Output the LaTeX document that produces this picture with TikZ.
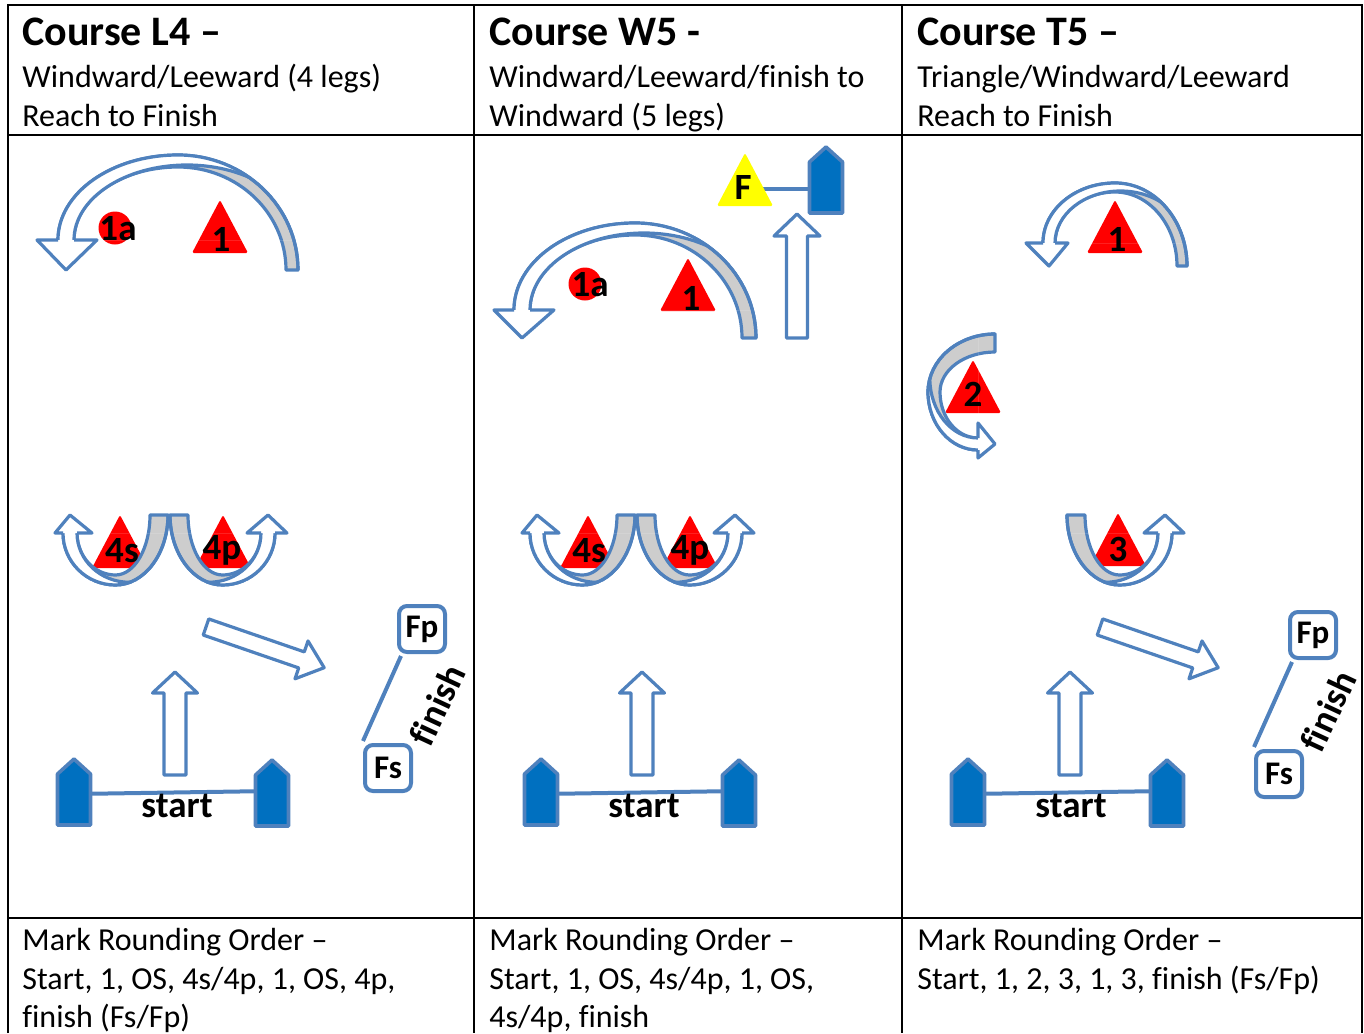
\documentclass[tikz,border=0pt]{standalone}
\usepackage{fontspec}
\setmainfont[Ligatures=NoCommon]{Carlito}
\usetikzlibrary{calc}
\definecolor{cblue}{RGB}{79,129,189}
\definecolor{boatblue}{RGB}{0,112,192}
\definecolor{greyband}{RGB}{205,205,205}
\definecolor{markred}{RGB}{255,0,0}
\definecolor{markyellow}{RGB}{255,255,0}

\tikzset{
 aline/.style={draw=cblue, line width=1.6pt, line join=round},
 tline/.style={draw=black, line width=1pt},
 sline/.style={draw=cblue, line width=2pt},
 boatshape/.style={draw=cblue, fill=boatblue, line width=1.8pt, line join=round},
 titletext/.style={anchor=base west, inner sep=0pt, font=\fontsize{21pt}{25pt}\selectfont\bfseries},
 bodytext/.style={anchor=base west, inner sep=0pt, font=\fontsize{16pt}{19pt}\selectfont},
 mlabel/.style={inner sep=0pt, font=\fontsize{18.5pt}{18.5pt}\selectfont\bfseries},
 fbox/.style={draw=cblue, fill=white, line width=2pt, rounded corners=4pt, minimum width=23pt, minimum height=23pt, inner sep=0pt, font=\fontsize{16.5pt}{16.5pt}\selectfont\bfseries},
}

\pgfkeys{/carrow/.cd,
  W/.store in=\cW, H/.store in=\cH, N/.store in=\cN, T/.store in=\cT, G/.store in=\cG,
  B/.store in=\cB, Ea/.store in=\cEa, Eb/.store in=\cEb, d/.store in=\cd, b/.store in=\cb}

\newcommand\carrow[2]{%
 \pgfkeys{/carrow/.cd,#2}%
 \pgfmathsetmacro\cWT{\cW-\cT}%
 \pgfmathsetmacro\cHG{\cH-\cG}%
 \pgfmathsetmacro\cWB{\cW-\cB}%
 \pgfmathsetmacro\cHN{\cH-\cN}%
 \pgfmathsetmacro\cHNG{\cH-\cN-\cG}%
 \pgfmathsetmacro\cA{\cW-\cB+\cd}%
 \pgfmathsetmacro\cEx{\cd+\cA}%
 \pgfmathsetmacro\cL{-\cW-\cEa-4}%
 \pgfmathsetmacro\cR{\cW+4}%
 \pgfmathsetmacro\cTop{\cH+4}%
 \pgfmathsetmacro\cNo{-\cW}%
 \pgfmathsetmacro\cNi{-\cW+\cB}%
 \pgfmathsetmacro\cHl{-\cW-\cEa}%
 \pgfmathsetmacro\cHr{-\cW+\cB+\cEb}%
 \pgfmathsetmacro\cTip{-\cW+0.5*\cB}%
 \begin{scope}[#1, y=0.5pt]
  \path[aline, fill=greyband] (\cW,0) arc[start angle=0,end angle=90,x radius=\cW,y radius=\cH]
     arc[start angle=90,end angle=180,x radius=\cW,y radius=\cHN]
     -- (\cNi,\cN) arc[start angle=180,end angle=90,x radius=\cWB,y radius=\cHNG]
     arc[start angle=90,end angle=0,x radius=\cWT,y radius=\cHG] -- cycle;
  \begin{scope}
   \clip (\cL,\cN) rectangle (\cR,\cTop);
   \clip (\cW,0) arc[start angle=0,end angle=90,x radius=\cW,y radius=\cH]
     arc[start angle=90,end angle=180,x radius=\cW,y radius=\cHN] -- (\cNo,0) -- cycle;
   \fill[white, even odd rule] (\cL,\cN) rectangle (\cR,\cTop)
     (\cEx,\cN) arc[start angle=0,end angle=180,x radius=\cA,y radius=\cb] -- cycle;
   \draw[aline] (\cEx,\cN) arc[start angle=0,end angle=180,x radius=\cA,y radius=\cb];
  \end{scope}
  \draw[aline] (\cW,0) arc[start angle=0,end angle=90,x radius=\cW,y radius=\cH]
     arc[start angle=90,end angle=180,x radius=\cW,y radius=\cHN];
  \path[aline, fill=white] (\cNo,\cN) -- (\cHl,\cN) -- (\cTip,0) -- (\cHr,\cN) -- (\cNi,\cN);
 \end{scope}}

% block arrow: origin, angle, length, shaft half width, head half width, head length
\newcommand\barrow[6]{%
 \begin{scope}[shift={#1}, rotate=#2, y=0.5pt]
   \pgfmathsetmacro\bL{#3-#6}
   \path[aline, fill=white] (0,-#4) -- (\bL,-#4) -- (\bL,-#5) -- (#3,0) -- (\bL,#5) -- (\bL,#4) -- (0,#4) -- cycle;
 \end{scope}}

% triangle mark: apex x, apex y, colour
\newcommand\tri[3]{\path[fill=#3, rounded corners=0.8pt] (#1-28,#2+53) -- (#1,#2) -- (#1+28,#2+53) -- cycle;}

% boat: x, apex y
\newcommand\boat[2]{\path[boatshape] (#1-16.5,#2+66) -- (#1-16.5,#2+15) -- (#1,#2) -- (#1+16.5,#2+15) -- (#1+16.5,#2+66) -- cycle;}

\begin{document}
\begin{tikzpicture}[x=0.5pt, y=-0.5pt]
\useasboundingbox (0,0) rectangle (1364,1033);

% ---------- table ----------
\draw[tline] (8,1033) -- (8,5) -- (1362,5) -- (1362,1033);
\draw[tline] (474,5) -- (474,1033);
\draw[tline] (902,5) -- (902,1033);
\draw[tline] (8,135) -- (1362,135);
\draw[tline] (8,918) -- (1362,918);

\node[titletext] (h1) at (22,46) {Course L4 –};
\node[bodytext] (h1a) at (22,87) {Windward/Leeward (4 legs)};
\node[bodytext] (h1b) at (22,126) {Reach to Finish};
\node[titletext] (h2) at (489,46) {Course W5 -};
\node[bodytext] (h2a) at (489,87) {Windward/Leeward/finish to};
\node[bodytext] (h2b) at (489,126) {Windward (5 legs)};
\node[titletext] (h3) at (917,46) {Course T5 –};
\node[bodytext] (h3a) at (917,87) {Triangle/Windward/Leeward};
\node[bodytext] (h3b) at (917,126) {Reach to Finish};

\node[bodytext] (f1a) at (22,950) {Mark Rounding Order –};
\node[bodytext] (f1b) at (22,989) {Start, 1, OS, 4s/4p, 1, OS, 4p,};
\node[bodytext] (f1c) at (22,1027) {finish (Fs/Fp)};
\node[bodytext] (f2a) at (489,950) {Mark Rounding Order –};
\node[bodytext] (f2b) at (489,989) {Start, 1, OS, 4s/4p, 1, OS,};
\node[bodytext] (f2c) at (489,1027) {4s/4p, finish};
\node[bodytext] (f3a) at (917,950) {Mark Rounding Order –};
\node[bodytext] (f3b) at (917,989) {Start, 1, 2, 3, 1, 3, finish (Fs/Fp)};

% ---------- connectors ----------
\coordinate (s1l) at (74,794); \coordinate (s1r) at (272,791);
\coordinate (s2l) at (541,794); \coordinate (s2r) at (739,791);
\coordinate (s3l) at (968,794); \coordinate (s3r) at (1167,791);
\draw[sline] (s1l) -- (s1r);
\draw[sline] (s2l) -- (s2r);
\draw[sline] (s3l) -- (s3r);
\coordinate (fmark) at (745,189); \coordinate (fboat) at (826,189);
\draw[sline] (fmark) -- (fboat);

% ---------- panel 1 ----------
\tri{220}{200}{markred}
\fill[markred] (115,228) circle[radius=16.5];
\carrow{shift={(178,270)}}{W=120,H=115,N=30,T=12,G=12,B=16,Ea=21,Eb=23,d=9,b=75}
\tri{120}{515}{markred}
\tri{223}{515}{markred}
\carrow{shift={(115.5,515)}, yscale=-1}{W=52.5,H=70,N=18,T=18,G=10,B=14,Ea=8,Eb=15,d=14,b=49.3}
\carrow{shift={(222.5,515)}, xscale=-1, yscale=-1}{W=52.5,H=70,N=18,T=18,G=10,B=14,Ea=12,Eb=14,d=14,b=49.3}
\barrow{(206,627)}{-19}{125}{8.5}{20}{24}
\barrow{(175,775)}{90}{103}{11}{22.5}{21}
\boat{74}{759}
\boat{272}{760}
\node[fbox] (fp1) at (422,629) {Fp};
\node[fbox] (fs1) at (388,768) {Fs};
\draw[sline] (fp1.south west) ++(4,2) -- ($(fs1.north west)+(0,-2)$);
\node[mlabel] (l1) at (221,239) {1};
\node[mlabel] (l1a) at (118,229) {1a};
\node[mlabel] (l4s) at (122,551) {4s};
\node[mlabel] (l4p) at (222,550) {4p};
\node[mlabel] (st1) at (177,806) {start};
\node[mlabel, rotate=65] (fin1) at (437,705) {finish};

% ---------- panel 2 ----------
\tri{688}{258}{markred}
\fill[markred] (585,284) circle[radius=16.5];
\carrow{shift={(635,338)}}{W=121,H=115,N=28,T=14,G=12,B=16,Ea=20,Eb=24,d=9,b=77}
\tri{745}{153}{markyellow}
\boat{826}{147}
\barrow{(797,338)}{90}{124}{10.5}{23}{22}
\tri{588}{515}{markred}
\tri{690}{515}{markred}
\carrow{shift={(582.5,515)}, yscale=-1}{W=52.5,H=70,N=18,T=18,G=10,B=14,Ea=8,Eb=15,d=14,b=49.3}
\carrow{shift={(689.5,515)}, xscale=-1, yscale=-1}{W=52.5,H=70,N=18,T=18,G=10,B=14,Ea=12,Eb=14,d=14,b=49.3}
\barrow{(642,775)}{90}{103}{11}{22.5}{21}
\boat{541}{759}
\boat{739}{760}
\node[mlabel] (l2) at (691,298) {1};
\node[mlabel] (l2a) at (590,285) {1a};
\node[mlabel] (lF) at (743,187) {F};
\node[mlabel] (l4s2) at (589,551) {4s};
\node[mlabel] (l4p2) at (690,550) {4p};
\node[mlabel] (st2) at (644,806) {start};

% ---------- panel 3 ----------
\tri{1115}{200}{markred}
\carrow{shift={(1115,266)}}{W=72,H=83,N=23,T=10,G=9,B=12,Ea=17,Eb=13,d=5.5,b=52}
\tri{973}{360}{markred}
\carrow{shift={(995,392)}, rotate=90}{W=58,H=67,N=17,T=18,G=12,B=12,Ea=8,Eb=15,d=14,b=48.2}
\tri{1118}{513}{markred}
\carrow{shift={(1119.5,515)}, xscale=-1, yscale=-1}{W=52.5,H=70,N=18,T=18,G=10,B=14,Ea=12,Eb=14,d=14,b=49.3}
\barrow{(1100,627)}{-19}{125}{8.5}{20}{24}
\barrow{(1070,775)}{90}{103}{11}{22.5}{21}
\boat{968}{759}
\boat{1167}{760}
\node[fbox] (fp3) at (1313,635) {Fp};
\node[fbox] (fs3) at (1279,774) {Fs};
\draw[sline] (fp3.south west) ++(4,2) -- ($(fs3.north west)+(0,-2)$);
\node[mlabel] (l31) at (1117,239) {1};
\node[mlabel] (l32) at (973,394) {2};
\node[mlabel] (l33) at (1118,549) {3};
\node[mlabel] (st3) at (1071,806) {start};
\node[mlabel, rotate=65] (fin3) at (1328,711) {finish};
\end{tikzpicture}
\end{document}
